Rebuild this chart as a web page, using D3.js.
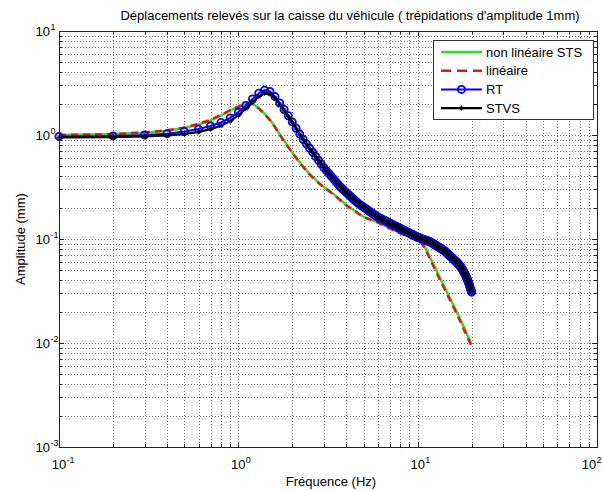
<!DOCTYPE html>
<html>
<head>
<meta charset="utf-8">
<script src="https://cdn.jsdelivr.net/npm/d3@7"></script>
<style>
  body { margin: 0; background: #fff; }
  svg { display: block; font-family: "Liberation Sans", Arial, sans-serif; }
</style>
</head>
<body>
<div id="chart"></div>
<script>
// frequences de calcul RT / STVS (pas de 0.1 Hz)
const freqRT = [
  0.1,0.2,0.3,0.4,0.5,0.6,0.7,0.8,0.9,1.0,
  1.1,1.2,1.3,1.4,1.5,1.6,1.7,1.8,1.9,2.0,
  2.1,2.2,2.3,2.4,2.5,2.6,2.7,2.8,2.9,3.0,
  3.1,3.2,3.3,3.4,3.5,3.6,3.7,3.8,3.9,4.0,
  4.1,4.2,4.3,4.4,4.5,4.6,4.7,4.8,4.9,5.0,
  5.1,5.2,5.3,5.4,5.5,5.6,5.7,5.8,5.9,6.0,
  6.1,6.2,6.3,6.4,6.5,6.6,6.7,6.8,6.9,7.0,
  7.1,7.2,7.3,7.4,7.5,7.6,7.7,7.8,7.9,8.0,
  8.1,8.2,8.3,8.4,8.5,8.6,8.7,8.8,8.9,9.0,
  9.1,9.2,9.3,9.4,9.5,9.6,9.7,9.8,9.9,10.0,
  10.1,10.2,10.3,10.4,10.5,10.6,10.7,10.8,10.9,11.0,
  11.1,11.2,11.3,11.4,11.5,11.6,11.7,11.8,11.9,12.0,
  12.1,12.2,12.3,12.4,12.5,12.6,12.7,12.8,12.9,13.0,
  13.1,13.2,13.3,13.4,13.5,13.6,13.7,13.8,13.9,14.0,
  14.1,14.2,14.3,14.4,14.5,14.6,14.7,14.8,14.9,15.0,
  15.1,15.2,15.3,15.4,15.5,15.6,15.7,15.8,15.9,16.0,
  16.1,16.2,16.3,16.4,16.5,16.6,16.7,16.8,16.9,17.0,
  17.1,17.2,17.3,17.4,17.5,17.6,17.7,17.8,17.9,18.0,
  18.1,18.2,18.3,18.4,18.5,18.6,18.7,18.8,18.9,19.0,
  19.1,19.2,19.3,19.4,19.5,19.6,19.7,19.8,19.9,20.0
];
const rtAmp = [
  0.97,0.98,1.00,1.03,1.08,1.14,1.22,1.32,1.46,1.66,
  1.92,2.22,2.52,2.70,2.62,2.34,2.03,1.76,1.53,1.33,
  1.16,1.02,0.905,0.819,0.745,0.681,0.622,0.571,0.525,0.485,
  0.454,0.426,0.400,0.377,0.355,0.336,0.318,0.304,0.292,0.280,
  0.269,0.259,0.249,0.240,0.232,0.224,0.2175,0.212,0.207,0.202,
  0.197,0.193,0.188,0.184,0.180,0.176,0.1726,0.169,0.1656,0.1625,
  0.160,0.158,0.1557,0.1535,0.1515,0.1494,0.1475,0.1456,0.1437,0.142,
  0.140,0.1384,0.1367,0.1351,0.1335,0.132,0.1305,0.129,0.1276,0.1262,
  0.1248,0.1235,0.1222,0.1209,0.1197,0.1185,0.1173,0.1161,0.115,0.1139,
  0.1128,0.1117,0.1107,0.1096,0.1086,0.1077,0.1067,0.1057,0.1048,0.104,
  0.1033,0.1027,0.1020,0.1014,0.1008,0.1002,0.0996,0.0990,0.0984,0.0978,
  0.0973,0.0967,0.0962,0.0956,0.0951,0.0946,0.0941,0.0935,0.0927,0.0918,
  0.0910,0.0902,0.0894,0.0886,0.0879,0.0871,0.0864,0.0856,0.0849,0.0842,
  0.0835,0.0828,0.0822,0.0815,0.0809,0.0802,0.0796,0.0790,0.0784,0.0777,
  0.0769,0.0760,0.0752,0.0744,0.0735,0.0727,0.0720,0.0712,0.0704,0.0697,
  0.0690,0.0683,0.0675,0.0669,0.0662,0.0655,0.0649,0.0642,0.0636,0.0629,
  0.0623,0.0617,0.0611,0.0605,0.0600,0.0594,0.0587,0.0581,0.0574,0.0567,
  0.0560,0.0553,0.0545,0.0538,0.0530,0.0522,0.0514,0.0506,0.0498,0.0490,
  0.0482,0.0473,0.0465,0.0456,0.0447,0.0438,0.0429,0.0420,0.0411,0.0402,
  0.0392,0.0383,0.0373,0.0363,0.0353,0.0343,0.0333,0.0324,0.0316,0.0308
];
// STVS : un peu en dessous de RT jusqu'a 2 Hz, confondu ensuite
const stvsLow = [
  0.95,0.955,0.97,0.99,1.02,1.07,1.14,1.23,1.36,1.55,
  1.79,2.07,2.34,2.52,2.48,2.26,1.98,1.73,1.51,1.32
];
const stvsAmp = stvsLow.concat(rtAmp.slice(stvsLow.length));

// non lineaire STS et lineaire
const stsFreq = [0.1,0.2,0.3,0.4,0.5,0.6,0.7,0.8,0.9,1.0,1.1,1.2,1.3,1.4,1.5,1.6,1.7,1.8,1.9,2.0,
                 2.2,2.5,2.9,3.4,4.0,4.5,5.0,6.0,7.0,8.0,9.0,10.0,10.5,11.0,13.0,15.0,17.0,20.0];
const stsAmp = [1.00,1.02,1.05,1.10,1.17,1.26,1.38,1.54,1.72,1.87,1.98,2.00,1.82,1.60,1.40,1.20,1.02,0.88,0.77,0.68,
                0.545,0.42,0.33,0.27,0.212,0.185,0.163,0.145,0.127,0.114,0.105,0.098,0.092,0.083,0.046,0.0278,0.0180,0.0097];
const linAmp = [1.00,1.02,1.06,1.11,1.18,1.28,1.40,1.56,1.73,1.87,1.97,1.98,1.80,1.59,1.39,1.19,1.01,0.87,0.76,0.675,
                0.54,0.415,0.328,0.268,0.21,0.184,0.162,0.144,0.126,0.113,0.104,0.097,0.091,0.081,0.044,0.0268,0.0172,0.0092];

const xDecades = [0.1, 1, 10, 100];
const yDecades = [0.001, 0.01, 0.1, 1, 10];
const legendNames = ['non linéaire STS', 'linéaire', 'RT', 'STVS'];

const W = 603, H = 491;
const mLeft = 59, mRight = 597, mTop = 31, mBottom = 447;

const svg = d3.select('#chart').append('svg')
    .attr('width', W)
    .attr('height', H);

const x = d3.scaleLog().domain([0.1, 100]).range([mLeft, mRight]);
const y = d3.scaleLog().domain([0.001, 10]).range([mBottom, mTop]);

// ticks mineurs : 2..9 dans chaque decade
const minorOf = (decs) => {
    let out = [];
    for (let i = 0; i < decs.length - 1; i++) {
        for (let k = 2; k <= 9; k++) out.push(decs[i] * k);
    }
    return out;
};
const xMinor = minorOf(xDecades);
const yMinor = minorOf(yDecades);
const xAll = xDecades.concat(xMinor);
const yAll = yDecades.concat(yMinor);

// grille pointillee
const grid = svg.append('g')
    .attr('stroke', '#000')
    .attr('stroke-width', 1)
    .attr('stroke-dasharray', '1,2')
    .attr('shape-rendering', 'crispEdges')
    .attr('opacity', 0.55);
grid.selectAll('.gx')
    .data(xAll.filter(d => d > 0.1 && d < 100))
    .enter()
    .append('line')
    .attr('x1', d => Math.round(x(d)) + 0.5)
    .attr('x2', d => Math.round(x(d)) + 0.5)
    .attr('y1', mTop)
    .attr('y2', mBottom);
grid.selectAll('.gy')
    .data(yAll.filter(d => d > 0.001 && d < 10))
    .enter()
    .append('line')
    .attr('y1', d => Math.round(y(d)) + 0.5)
    .attr('y2', d => Math.round(y(d)) + 0.5)
    .attr('x1', mLeft)
    .attr('x2', mRight);

// ticks interieurs sur les quatre cotes
const ticks = svg.append('g')
    .attr('stroke', '#222')
    .attr('stroke-width', 1)
    .attr('shape-rendering', 'crispEdges');
const tickLen = d => (xDecades.includes(d) || yDecades.includes(d)) ? 5 : 3;
xAll.forEach(d => {
    let px = Math.round(x(d)) + 0.5;
    ticks.append('line').attr('x1', px).attr('x2', px).attr('y1', mBottom).attr('y2', mBottom - tickLen(d));
    ticks.append('line').attr('x1', px).attr('x2', px).attr('y1', mTop).attr('y2', mTop + tickLen(d));
});
yAll.forEach(d => {
    let py = Math.round(y(d)) + 0.5;
    ticks.append('line').attr('y1', py).attr('y2', py).attr('x1', mLeft).attr('x2', mLeft + tickLen(d));
    ticks.append('line').attr('y1', py).attr('y2', py).attr('x1', mRight).attr('x2', mRight - tickLen(d));
});

// courbes
const line = d3.line()
    .x(d => x(d[0]))
    .y(d => y(d[1]));
const plot = svg.append('g');

plot.append('path')
    .datum(d3.zip(stsFreq, stsAmp))
    .attr('d', line)
    .attr('fill', 'none')
    .attr('stroke', '#22e622')
    .attr('stroke-width', 2.5);

plot.append('path')
    .datum(d3.zip(stsFreq, linAmp))
    .attr('d', line)
    .attr('fill', 'none')
    .attr('stroke', '#ee1111')
    .attr('stroke-width', 2.5)
    .attr('stroke-dasharray', '7,5');

const rtData = d3.zip(freqRT, rtAmp);
plot.append('path')
    .datum(rtData)
    .attr('d', line)
    .attr('fill', 'none')
    .attr('stroke', '#0000ff')
    .attr('stroke-width', 2);
plot.selectAll('.rt')
    .data(rtData)
    .enter()
    .append('circle')
    .attr('cx', d => x(d[0]))
    .attr('cy', d => y(d[1]))
    .attr('r', 3.6)
    .attr('fill', 'none')
    .attr('stroke', '#0000ff')
    .attr('stroke-width', 1.8);

const stvsData = d3.zip(freqRT, stvsAmp);
plot.append('path')
    .datum(stvsData)
    .attr('d', line)
    .attr('fill', 'none')
    .attr('stroke', '#000')
    .attr('stroke-width', 2.2);
const star = 'M-2.5,0H2.5M0,-2.5V2.5M-1.8,-1.8L1.8,1.8M-1.8,1.8L1.8,-1.8';
plot.selectAll('.stvs')
    .data(stvsData)
    .enter()
    .append('path')
    .attr('transform', d => `translate(${x(d[0])},${y(d[1])})`)
    .attr('d', star)
    .attr('stroke', '#000')
    .attr('stroke-width', 1);

// cadre
svg.append('rect')
    .attr('x', mLeft + 0.5)
    .attr('y', mTop + 0.5)
    .attr('width', mRight - mLeft)
    .attr('height', mBottom - mTop)
    .attr('fill', 'none')
    .attr('stroke', '#222')
    .attr('stroke-width', 1)
    .attr('shape-rendering', 'crispEdges');

// etiquettes 10^n
const expOf = d => Math.round(Math.log10(d));
const xl = svg.append('g').attr('font-size', 13).attr('fill', '#000');
xDecades.forEach(d => {
    // la derniere etiquette est decalee pour rester dans la fenetre
    let cx = d === 100 ? 589 : x(d);
    let g = xl.append('g').attr('transform', `translate(${cx},469)`);
    g.append('text').attr('text-anchor', 'middle').text('10');
    g.append('text').attr('x', 7.5).attr('y', -6).attr('font-size', 9).text(expOf(d));
});
yDecades.forEach(d => {
    let g = xl.append('g').attr('transform', `translate(50,${y(d) + 5})`);
    g.append('text').attr('text-anchor', 'end').text('10');
    g.append('text').attr('x', 0.5).attr('y', -6).attr('font-size', 9).text(expOf(d));
});

// titres
svg.append('text')
    .attr('x', 350)
    .attr('y', 20)
    .attr('text-anchor', 'middle')
    .attr('font-size', 13)
    .text("Déplacements relevés sur la caisse du véhicule ( trépidations d'amplitude 1mm)");
svg.append('text')
    .attr('x', 331)
    .attr('y', 486)
    .attr('text-anchor', 'middle')
    .attr('font-size', 13)
    .text('Fréquence (Hz)');
svg.append('text')
    .attr('transform', 'translate(25,239) rotate(-90)')
    .attr('text-anchor', 'middle')
    .attr('font-size', 13)
    .text('Amplitude (mm)');

// legende
const lg = svg.append('g').attr('transform', 'translate(433,40)');
lg.append('rect')
    .attr('x', 0.5).attr('y', 0.5)
    .attr('width', 160).attr('height', 79)
    .attr('fill', '#fff')
    .attr('stroke', '#333')
    .attr('stroke-width', 1)
    .attr('shape-rendering', 'crispEdges');
const styles = [
    {stroke: '#22e622', w: 2.5, dash: null},
    {stroke: '#ee1111', w: 2.5, dash: '10,6'},
    {stroke: '#0000ff', w: 2, dash: null},
    {stroke: '#000', w: 2.2, dash: null}
];
const items = lg.selectAll('.item')
    .data(legendNames)
    .enter()
    .append('g')
    .attr('transform', (d, i) => `translate(0,${12 + i * 18.7})`);
items.append('line')
    .attr('x1', 8).attr('x2', 49)
    .attr('stroke', (d, i) => styles[i].stroke)
    .attr('stroke-width', (d, i) => styles[i].w)
    .attr('stroke-dasharray', (d, i) => styles[i].dash);
items.filter((d, i) => i === 2)
    .append('circle')
    .attr('cx', 28.5).attr('r', 3.6)
    .attr('fill', 'none').attr('stroke', '#0000ff').attr('stroke-width', 1.8);
items.filter((d, i) => i === 3)
    .append('path')
    .attr('transform', 'translate(28.5,0)')
    .attr('d', star)
    .attr('stroke', '#000');
items.append('text')
    .attr('x', 53)
    .attr('y', 4.5)
    .attr('font-size', 13)
    .text(d => d);
</script>
</body>
</html>
